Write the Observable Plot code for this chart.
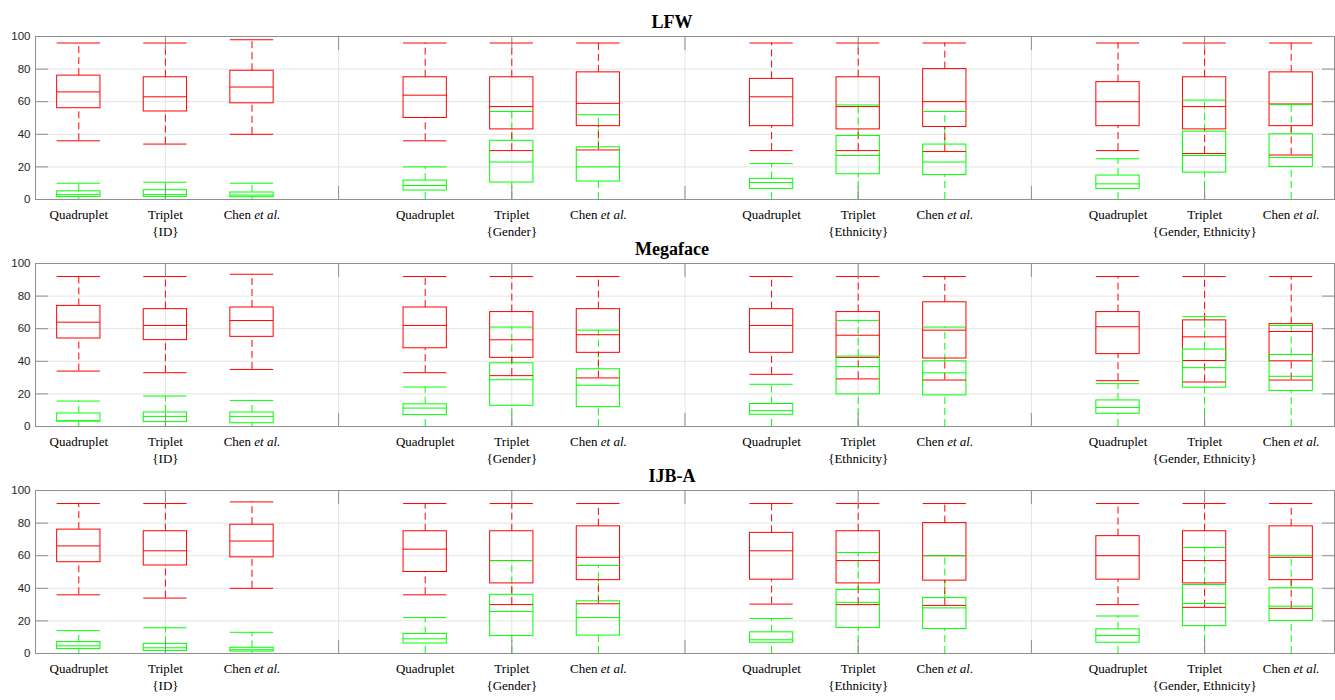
<!DOCTYPE html>
<html>
<head>
<meta charset="utf-8">
<script src="https://cdn.jsdelivr.net/npm/d3@7"></script>
<script src="https://cdn.jsdelivr.net/npm/@observablehq/plot@0.6"></script>
<style>
  body { margin: 0; background: white; }
  #chart { position: relative; width: 1335px; height: 700px; background: white; }
  #chart svg { position: absolute; left: 0; }
</style>
</head>
<body>
<div id="chart"></div>
<script>
// ---------- data ----------
const datasets = ["LFW", "Megaface", "IJB-A"];
const methods = ["Quadruplet", "Triplet", "Chen et al."];
const groups = ["{ID}", "{Gender}", "{Ethnicity}", "{Gender, Ethnicity}"];
const positions = [1, 2, 3, 5, 6, 7, 9, 10, 11, 13, 14, 15];
const groupCenters = [2, 6, 10, 14];
const yTicks = [0, 20, 40, 60, 80, 100];
const xGridTicks = [2, 4, 6, 8, 10, 12, 14];
const seriesNames = ["series 1", "series 2"];
const seriesColors = ["#ff0000", "#00ff00"];

// [lower whisker, q1, median, q3, upper whisker]
const lfwRed = [
  [36, 56, 66, 76, 96], [34, 54, 63, 75, 96], [40, 59, 69, 79, 98],
  [36, 50, 64, 75, 96], [30, 43, 57, 75, 96], [30.4, 45, 59, 78, 96],
  [30, 45, 63, 74, 96], [30, 43, 57, 75, 96], [29.4, 44.5, 60, 80, 96],
  [30, 45, 60, 72, 96], [28.2, 43, 57, 75, 96], [27.3, 45, 58.6, 78, 96]
];
const lfwGreen = [
  [0, 1.5, 3, 5, 10], [0, 1.6, 3, 5.7, 10.6], [0, 1.4, 2.7, 4.3, 10],
  [0, 5.5, 8.6, 11.6, 20], [0, 10.4, 23, 36, 54], [0, 11, 20, 32, 52],
  [0, 6.5, 10.4, 12.7, 22], [0, 15.5, 27, 39, 58], [0, 15, 23, 33.7, 54],
  [0, 6.5, 9.6, 14.7, 25], [0, 16.5, 27, 41.6, 61], [0, 20, 25.7, 40, 58.2]
];
const megaRed = [
  [34, 54, 64, 74, 92], [33, 53, 62, 72, 92], [35, 55, 65, 73, 93.4],
  [33, 48, 62, 73, 92], [31.2, 42.1, 53.2, 70.2, 92], [29.8, 45.2, 56.3, 72, 92],
  [32, 45.2, 62, 72, 92], [29.2, 42.1, 56, 70.2, 92], [28.5, 41.7, 59.1, 76.2, 92],
  [28.1, 44.4, 61.2, 70.2, 92], [27.3, 40.2, 55, 65.1, 92], [28.5, 40, 58.3, 62.8, 92]
];
const megaGreen = [
  [0, 3, 3.5, 8, 15.6], [0, 2.7, 6.2, 8.6, 18.7], [0, 2, 6.2, 8.6, 16],
  [0, 7, 11.3, 13.6, 24.2], [0, 12.7, 28.7, 38.8, 61], [0, 11.9, 25.3, 35.1, 59.1],
  [0, 7.2, 9.7, 13.8, 25.9], [0, 19.7, 36.8, 42.9, 65.1], [0, 19.1, 32.9, 40, 61],
  [0, 7.8, 11.7, 16, 26.3], [0, 23.8, 36.1, 47.2, 67.4], [0, 21.8, 30.8, 43.9, 62]
];
const ijbRed = [
  [36, 56, 66, 76, 92], [34, 54, 63, 75, 92], [40, 59, 69, 79, 93],
  [36, 50, 64, 75, 92], [30, 43, 57, 75, 92], [30.5, 45, 59, 78, 92],
  [30.3, 45.3, 63, 74, 92], [30, 43, 57, 75, 92], [29.5, 44.7, 60, 80, 92],
  [30, 45.3, 60, 72, 92], [28.3, 43, 57, 75, 92], [27.7, 45, 59, 78, 92]
];
const ijbGreen = [
  [0, 2.7, 4.7, 7, 14], [0, 1.6, 3.5, 5.9, 15.8], [0, 1.2, 2.3, 3.5, 13],
  [0, 6.1, 9, 12, 22], [0, 10.7, 25.8, 36, 57], [0, 11, 22, 32, 54],
  [0, 6.6, 8.4, 13, 21.5], [0, 15.6, 31.4, 39, 62], [0, 15, 28, 34, 60],
  [0, 6.6, 11, 14.8, 23], [0, 16.8, 30.7, 42, 65], [0, 20, 29, 40, 60]
];

const panelStats = [[lfwRed, lfwGreen], [megaRed, megaGreen], [ijbRed, ijbGreen]];

// ---------- build ----------
const W = 1335, H = 245, STEP = 227;
const boxHalf = 0.25;
const frameColor = "#8f8f8f";
const gridColor = "#e4e4e4";

function rowsFor(p) {
  const rows = [];
  panelStats[p].forEach((stats, s) => {
    stats.forEach((v, i) => {
      rows.push({pos: positions[i], series: seriesNames[s], lo: v[0], q1: v[1], med: v[2], q3: v[3], hi: v[4]});
    });
  });
  return rows;
}

const container = document.getElementById("chart");

datasets.forEach((name, p) => {
  const rows = rowsFor(p);
  const x1 = d => d.pos - boxHalf, x2 = d => d.pos + boxHalf;
  const svg = Plot.plot({
    width: W,
    height: H,
    marginTop: 36,
    marginBottom: 46,
    marginLeft: 35,
    marginRight: 1,
    style: {fontFamily: "'Liberation Serif', 'Times New Roman', serif", background: "transparent", overflow: "visible"},
    x: {domain: [0.5, 15.5], axis: null},
    y: {domain: [0, 100], axis: null},
    color: {type: "ordinal", domain: seriesNames, range: seriesColors},
    marks: [
      Plot.gridY(yTicks.slice(1, -1), {stroke: gridColor, strokeOpacity: 1}),
      Plot.gridX(xGridTicks, {stroke: gridColor, strokeOpacity: 1}),
      // whiskers
      Plot.ruleX(rows, {x: "pos", y1: "q3", y2: "hi", stroke: "series", strokeDasharray: "7,4"}),
      Plot.ruleX(rows, {x: "pos", y1: "lo", y2: "q1", stroke: "series", strokeDasharray: "7,4"}),
      // boxes
      Plot.rect(rows, {x1, x2, y1: "q1", y2: "q3", stroke: "series", fill: "none"}),
      // medians & caps
      Plot.ruleY(rows, {y: "med", x1, x2, stroke: "series"}),
      Plot.ruleY(rows, {y: "hi", x1, x2, stroke: "series"}),
      Plot.ruleY(rows, {y: "lo", x1, x2, stroke: "series"}),
      Plot.frame({stroke: frameColor}),
      // inward ticks
      Plot.axisY(yTicks, {anchor: "left", tickSize: -13, fill: "none", stroke: frameColor, label: null}),
      Plot.axisY(yTicks, {anchor: "right", tickSize: -13, fill: "none", stroke: frameColor, label: null}),
      Plot.axisX(xGridTicks, {anchor: "bottom", tickSize: -13, fill: "none", stroke: frameColor, label: null}),
      Plot.axisX(xGridTicks, {anchor: "top", tickSize: -13, fill: "none", stroke: frameColor, label: null}),
      // y tick labels
      Plot.axisY(yTicks, {anchor: "left", tickSize: 0, tickPadding: 5, fontSize: 11.5,
        fontFamily: "'Liberation Sans', Arial, sans-serif", fill: "#262626", label: null}),
      // x labels: methods and groups
      Plot.axisX(positions, {anchor: "bottom", tickSize: 0, tickPadding: 10, fontSize: 13, fill: "#000",
        tickFormat: d => methods[positions.indexOf(d) % 3], label: null}),
      Plot.axisX(groupCenters, {anchor: "bottom", tickSize: 0, tickPadding: 27, fontSize: 13, fill: "#000",
        tickFormat: d => groups[groupCenters.indexOf(d)], label: null}),
      // title
      Plot.text([name], {text: d => d, frameAnchor: "top", dy: -21, dx: -13, fontSize: 18, fontWeight: "bold", fill: "#000"})
    ]
  });
  svg.style.top = (p * STEP) + "px";
  // italicise "et al."
  d3.select(svg).selectAll("text").each(function() {
    if (this.textContent === "Chen et al.") {
      const t = d3.select(this);
      t.text("Chen ");
      t.append("tspan").attr("font-style", "italic").text("et al.");
    }
  });
  container.appendChild(svg);
});
</script>
</body>
</html>
